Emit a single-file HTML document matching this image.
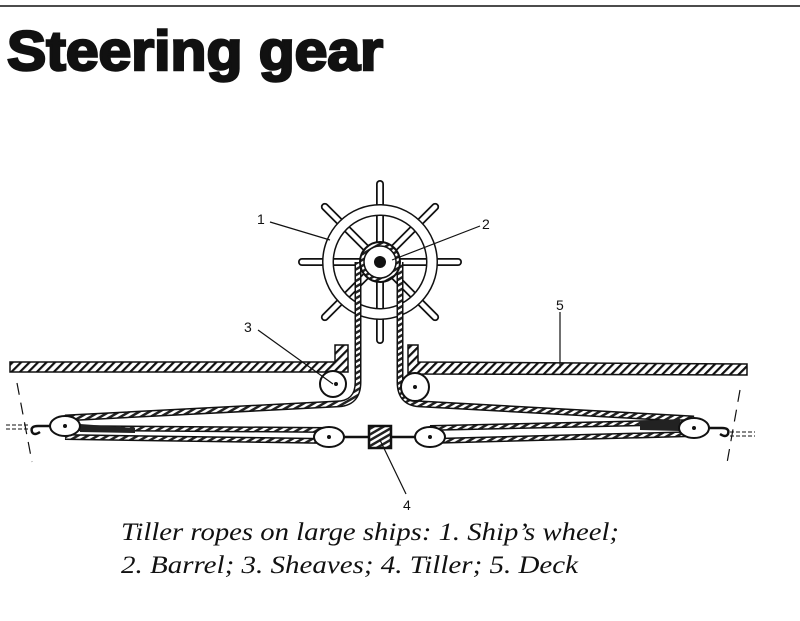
<!DOCTYPE html>
<html><head><meta charset="utf-8"><style>
body{margin:0;background:#fff;width:800px;height:621px;overflow:hidden}
svg{display:block}
</style></head><body>
<svg width="800" height="621" viewBox="0 0 800 621" xmlns="http://www.w3.org/2000/svg">
<defs>
<pattern id="h" width="6" height="6" patternUnits="userSpaceOnUse" patternTransform="rotate(45)">
<rect width="6" height="6" fill="#fff"/><rect width="2.2" height="6" fill="#111"/></pattern>
<pattern id="r" width="5" height="5" patternUnits="userSpaceOnUse" patternTransform="rotate(60)">
<rect width="5" height="5" fill="#fff"/><rect width="2.5" height="5" fill="#222"/></pattern>
</defs>
<line x1="0" y1="6" x2="800" y2="6" stroke="#111" stroke-width="1.5"/>
<text x="7" y="70" font-family="Liberation Sans, sans-serif" font-weight="bold" font-size="56" textLength="376" lengthAdjust="spacingAndGlyphs" fill="#111" stroke="#111" stroke-width="2.5">Steering gear</text>

<g stroke="#111" stroke-width="2" fill="#fff">
<g id="sp">
<path d="M380 262 L380 184" stroke-width="8" stroke-linecap="round"/>
<path d="M380 262 L380 184" stroke="#fff" stroke-width="4.5" stroke-linecap="round"/>
</g>
<use href="#sp" transform="rotate(45 380 262)"/><use href="#sp" transform="rotate(90 380 262)"/>
<use href="#sp" transform="rotate(135 380 262)"/><use href="#sp" transform="rotate(180 380 262)"/>
<use href="#sp" transform="rotate(225 380 262)"/><use href="#sp" transform="rotate(270 380 262)"/>
<use href="#sp" transform="rotate(315 380 262)"/>
</g>
<circle cx="380" cy="262" r="52" fill="none" stroke="#111" stroke-width="12"/>
<circle cx="380" cy="262" r="52" fill="none" stroke="#fff" stroke-width="9"/>
<path d="M358 262 L358 382 Q358 404 336 404 L65 418" fill="none" stroke="#111" stroke-width="7"/>
<path d="M358 262 L358 382 Q358 404 336 404 L65 418" fill="none" stroke="url(#r)" stroke-width="4"/>
<path d="M400 262 L400 382 Q400 404 422 404 L694 419" fill="none" stroke="#111" stroke-width="7"/>
<path d="M400 262 L400 382 Q400 404 422 404 L694 419" fill="none" stroke="url(#r)" stroke-width="4"/>
<circle cx="380" cy="262" r="20" fill="url(#r)" stroke="#111" stroke-width="2"/>
<circle cx="380" cy="262" r="16" fill="#fff" stroke="#111" stroke-width="1.5"/>
<circle cx="380" cy="262" r="6" fill="#111"/>
<path d="M10 362 L335 362 L335 345 L348 345 L348 372 L10 372 Z" fill="url(#h)" stroke="#111" stroke-width="1.5"/>
<path d="M408 345 L418 345 L418 362 L747 364 L747 375 L408 374 Z" fill="url(#h)" stroke="#111" stroke-width="1.5"/>
<circle cx="333" cy="384" r="13" fill="#fff" stroke="#111" stroke-width="2"/><circle cx="336" cy="384" r="2" fill="#111"/>
<circle cx="415" cy="387" r="14" fill="#fff" stroke="#111" stroke-width="2"/><circle cx="415" cy="387" r="2" fill="#111"/>
<g fill="none">
<path d="M65 428 L328 430 M65 437 L328 441 M430 428 L694 422 M430 441 L694 434" stroke="#111" stroke-width="6"/>
<path d="M65 428 L328 430 M65 437 L328 441 M430 428 L694 422 M430 441 L694 434" stroke="url(#r)" stroke-width="3"/>
</g>
<path d="M80 424 L135 428 L135 433 L80 432Z M640 421 L680 419 L680 431 L640 430Z" fill="#222"/>
<g fill="#fff" stroke="#111" stroke-width="2">
<ellipse cx="65" cy="426" rx="15" ry="10"/><ellipse cx="329" cy="437" rx="15" ry="10"/>
<ellipse cx="430" cy="437" rx="15" ry="10"/><ellipse cx="694" cy="428" rx="15" ry="10"/>
</g>
<g fill="#111"><circle cx="65" cy="426" r="2"/><circle cx="329" cy="437" r="2"/><circle cx="430" cy="437" r="2"/><circle cx="694" cy="428" r="2"/></g>
<g fill="none" stroke="#111" stroke-width="2.5">
<path d="M50 426 L38 426 Q30 426 32 432 Q34 436 40 432"/>
<path d="M709 428 L722 428 Q730 428 728 434 Q726 438 720 434"/>
<path d="M344 437 L369 437 M391 437 L415 437"/>
</g>
<path d="M6 425 L30 425 M6 429 L30 429 M730 432 L755 432 M730 436 L755 436" stroke="#111" stroke-width="1" stroke-dasharray="4 2"/>
<path d="M17 383 L32 462 M740 390 L727 463" stroke="#111" stroke-width="1.2" stroke-dasharray="12 8"/>
<rect x="369" y="426" width="22" height="22" fill="url(#r)" stroke="#111" stroke-width="2.5"/>
<g stroke="#111" stroke-width="1.2">
<line x1="270" y1="222" x2="330" y2="240"/><line x1="480" y1="226" x2="392" y2="260"/>
<line x1="258" y1="330" x2="333" y2="384"/><line x1="380" y1="440" x2="406" y2="494"/>
<line x1="560" y1="312" x2="560" y2="368"/>
</g>
<g font-family="Liberation Sans, sans-serif" font-size="14" fill="#111">
<text x="257" y="224">1</text><text x="482" y="229">2</text><text x="244" y="332">3</text>
<text x="403" y="510">4</text><text x="556" y="310">5</text>
</g>
<g font-family="Liberation Serif, serif" font-style="italic" font-size="25" fill="#111">
<text x="121" y="540" textLength="498" lengthAdjust="spacingAndGlyphs">Tiller ropes on large ships: 1. Ship’s wheel;</text>
<text x="121" y="573" textLength="457" lengthAdjust="spacingAndGlyphs">2. Barrel; 3. Sheaves; 4. Tiller; 5. Deck</text>
</g>
</svg>
</body></html>
